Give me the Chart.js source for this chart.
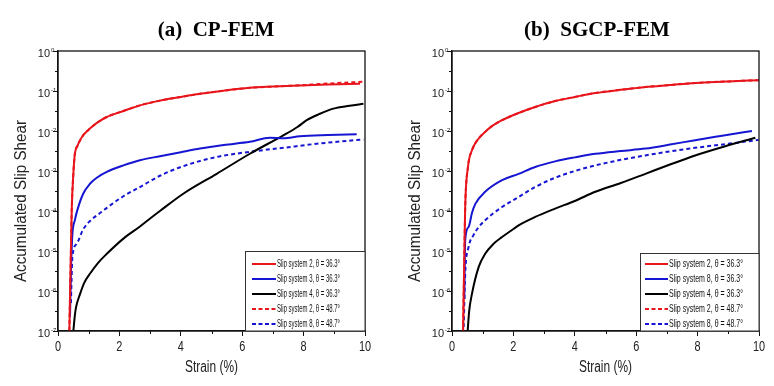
<!DOCTYPE html>
<html>
<head>
<meta charset="utf-8">
<script src="https://cdn.jsdelivr.net/npm/chart.js@4.4.1/dist/chart.umd.min.js"></script>
<style>
  html, body { margin: 0; padding: 0; background: #fff; }
  #wrap { position: relative; width: 774px; height: 386px; }
  .panel { position: absolute; top: 0; width: 387px; height: 386px; }
</style>
</head>
<body>
<div id="wrap">
  <div class="panel" style="left:0"><canvas id="chartA" width="387" height="386"></canvas></div>
  <div class="panel" style="left:387px"><canvas id="chartB" width="387" height="386"></canvas></div>
</div>
<script>
// axis ticks
const xTickValues = [0, 2, 4, 6, 8, 10];
const xMinorValues = [1, 3, 5, 7, 9];
const yTickValues = [1, 1e-1, 1e-2, 1e-3, 1e-4, 1e-5, 1e-6, 1e-7];
const yTickExps = ['0', '-1', '-2', '-3', '-4', '-5', '-6', '-7'];

// legend labels
const labelsA = ['Slip system 2, θ = 36.3°', 'Slip system 3, θ = 36.3°', 'Slip system 4, θ = 36.3°',
                 'Slip system 2, θ = 48.7°', 'Slip system 8, θ = 48.7°'];
const labelsB = ['Slip system 2, θ = 36.3°', 'Slip system 8, θ = 36.3°', 'Slip system 4, θ = 36.3°',
                 'Slip system 2, θ = 48.7°', 'Slip system 8, θ = 48.7°'];

// (a) CP-FEM
const aSs2Strain = [0.37, 0.42, 0.45, 0.50, 0.55, 0.63, 0.72, 0.85, 1.04, 1.3, 1.59, 2.13, 2.67, 3.32, 4.0, 4.63, 5.4, 6.25, 7.0, 7.88, 8.8, 9.84];
const aSs2Shear  = [1e-7, 1e-5, 1.26e-4, 8.5e-4, 2.7e-3, 4.2e-3, 5.9e-3, 8.3e-3, 1.15e-2, 1.66e-2, 2.24e-2, 3.16e-2, 4.37e-2, 5.75e-2, 7.1e-2, 8.5e-2, 0.102, 0.12, 0.129, 0.138, 0.145, 0.151];
const aSs3Strain = [0.39, 0.43, 0.47, 0.55, 0.63, 0.82, 1.04, 1.3, 1.59, 2.13, 2.67, 3.32, 4.0, 4.63, 5.4, 6.25, 6.9, 7.34, 7.88, 8.8, 9.73];
const aSs3Shear  = [2.2e-7, 5e-6, 2.7e-5, 5.9e-5, 1.05e-4, 2.7e-4, 4.8e-4, 7.1e-4, 9.5e-4, 1.38e-3, 1.86e-3, 2.34e-3, 2.95e-3, 3.63e-3, 4.47e-3, 5.37e-3, 6.76e-3, 6.6e-3, 7.41e-3, 7.94e-3, 8.3e-3];
const aSs4Strain = [0.5, 0.55, 0.59, 0.72, 0.85, 1.04, 1.3, 1.59, 2.13, 2.67, 3.0, 3.32, 4.08, 5.17, 6.25, 7.34, 7.8, 8.1, 8.5, 8.97, 9.5, 9.95];
const aSs4Shear  = [1e-7, 2.5e-7, 4e-7, 8.5e-7, 1.58e-6, 2.7e-6, 5e-6, 8.5e-6, 2.04e-5, 4.1e-5, 6.5e-5, 1.0e-4, 2.7e-4, 8.5e-4, 2.7e-3, 7.8e-3, 1.26e-2, 1.86e-2, 2.63e-2, 3.63e-2, 4.27e-2, 4.8e-2];
const aSs2bStrain = [0.37, 0.42, 0.45, 0.50, 0.55, 0.63, 0.72, 0.85, 1.04, 1.3, 1.59, 2.13, 2.67, 3.32, 4.0, 4.63, 5.4, 6.25, 7.0, 7.88, 8.5, 9.2, 9.95];
const aSs2bShear  = [1e-7, 1e-5, 1.26e-4, 8.5e-4, 2.7e-3, 4.2e-3, 5.9e-3, 8.3e-3, 1.15e-2, 1.66e-2, 2.24e-2, 3.16e-2, 4.37e-2, 5.75e-2, 7.1e-2, 8.5e-2, 0.102, 0.12, 0.129, 0.139, 0.149, 0.16, 0.17];
const aSs8bStrain = [0.42, 0.47, 0.61, 0.82, 1.04, 1.37, 1.59, 2.13, 2.67, 3.32, 4.08, 5.17, 6.25, 7.34, 8.43, 9.95];
const aSs8bShear  = [5e-7, 7.1e-6, 1.51e-5, 3.47e-5, 5.6e-5, 8.9e-5, 1.2e-4, 2.34e-4, 3.98e-4, 7.6e-4, 1.32e-3, 2.24e-3, 3.02e-3, 3.8e-3, 4.79e-3, 6.17e-3];

// (b) SGCP-FEM
const bSs2Strain = [0.36, 0.40, 0.43, 0.52, 0.65, 0.87, 1.08, 1.3, 1.63, 2.17, 2.71, 3.36, 4.0, 4.67, 5.5, 6.3, 7.1, 7.92, 9.0, 9.99];
const bSs2Shear  = [1e-7, 6.3e-6, 1.26e-4, 1.26e-3, 3.3e-3, 6.5e-3, 9.5e-3, 1.32e-2, 1.86e-2, 2.82e-2, 3.98e-2, 5.6e-2, 7.1e-2, 8.9e-2, 0.107, 0.126, 0.141, 0.158, 0.174, 0.186];
const bSs8Strain = [0.40, 0.43, 0.54, 0.65, 0.76, 1.08, 1.63, 2.17, 2.71, 3.36, 4.0, 4.67, 5.5, 6.3, 7.1, 7.92, 8.8, 9.77];
const bSs8Shear  = [6.3e-7, 1.86e-5, 3.98e-5, 8.9e-5, 1.51e-4, 3.02e-4, 5.9e-4, 8.5e-4, 1.26e-3, 1.74e-3, 2.19e-3, 2.69e-3, 3.16e-3, 3.63e-3, 4.57e-3, 5.9e-3, 7.6e-3, 1.0e-2];
const bSs4Strain = [0.51, 0.56, 0.65, 0.87, 1.08, 1.35, 1.63, 2.0, 2.17, 2.71, 3.36, 4.0, 4.67, 5.5, 6.3, 7.1, 7.92, 8.9, 9.88];
const bSs4Shear  = [1e-7, 3.2e-7, 8.5e-7, 4e-6, 8.5e-6, 1.51e-5, 2.24e-5, 3.55e-5, 4.37e-5, 7.1e-5, 1.15e-4, 1.78e-4, 3.02e-4, 5e-4, 8.5e-4, 1.45e-3, 2.45e-3, 4.17e-3, 6.76e-3];
const bSs2bStrain = bSs2Strain;
const bSs2bShear  = bSs2Shear;
const bSs8bStrain = [0.38, 0.43, 0.54, 0.7, 0.87, 1.08, 1.63, 2.17, 2.71, 3.36, 4.0, 4.67, 5.5, 6.3, 7.1, 7.92, 9.0, 9.99];
const bSs8bShear  = [1.26e-7, 2.7e-6, 1.26e-5, 2.5e-5, 3.98e-5, 5.9e-5, 1.26e-4, 2.24e-4, 3.98e-4, 6.8e-4, 1.0e-3, 1.38e-3, 1.9e-3, 2.45e-3, 3.1e-3, 3.8e-3, 4.8e-3, 6.0e-3];

const RED = 'rgb(232,22,28)';
const BLUE = 'rgb(22,22,210)';
const BLACK = '#000';
const DASH = [4, 3];

function pts(xs, ys) {
    return xs.map((x, i) => ({ x: x, y: ys[i] }));
}

function line(label, xs, ys, color, dashed) {
    return {
        label: label,
        data: pts(xs, ys),
        borderColor: color,
        backgroundColor: color,
        borderWidth: 2,
        borderDash: dashed ? DASH : [],
        pointRadius: 0,
        cubicInterpolationMode: 'monotone',
        fill: false
    };
}

function drawSqueezed(ctx, s, x, y, font, align, sx) {
    ctx.save();
    ctx.font = font;
    ctx.translate(x, y);
    ctx.scale(sx, 1);
    ctx.textAlign = align;
    ctx.fillText(s, 0, 0);
    ctx.restore();
}

// frame, minor ticks, tick labels, titles and the in-plot legend
const panelDecor = {
    id: 'panelDecor',
    afterDraw(chart, args, o) {
        const ctx = chart.ctx;
        const ca = chart.chartArea;
        const xs = chart.scales.x;
        const ys = chart.scales.y;
        ctx.save();
        ctx.strokeStyle = '#111';
        ctx.fillStyle = '#222';
        ctx.lineWidth = 1.3;
        ctx.strokeRect(ca.left, ca.top, ca.right - ca.left, ca.bottom - ca.top);

        // minor ticks
        ctx.lineWidth = 1;
        ctx.beginPath();
        xMinorValues.forEach(v => {
            const px = Math.round(xs.getPixelForValue(v)) + 0.5;
            ctx.moveTo(px, ca.bottom);
            ctx.lineTo(px, ca.bottom + 3);
        });
        for (let i = 0; i < yTickValues.length - 1; i++) {
            const py = Math.round(ys.getPixelForValue(Math.sqrt(yTickValues[i] * yTickValues[i + 1]))) + 0.5;
            ctx.moveTo(ca.left - 3, py);
            ctx.lineTo(ca.left, py);
        }
        ctx.stroke();

        // x tick labels
        ctx.textBaseline = 'middle';
        xTickValues.forEach(v => {
            drawSqueezed(ctx, String(v), xs.getPixelForValue(v), ca.bottom + 16, '14px Arial, "Liberation Sans"', 'center', 0.78);
        });

        // y tick labels 10^n
        ctx.textBaseline = 'alphabetic';
        yTickValues.forEach((v, i) => {
            const py = ys.getPixelForValue(v);
            ctx.font = '11px Arial, "Liberation Sans"';
            ctx.textAlign = 'right';
            ctx.fillText('10', ca.left - 8, py + 6);
            ctx.font = '6px Arial, "Liberation Sans"';
            ctx.textAlign = 'left';
            ctx.fillText(yTickExps[i], ca.left - 7, py + 1);
        });

        // panel title
        ctx.fillStyle = '#000';
        ctx.font = 'bold 21px "Liberation Serif", "Times New Roman", serif';
        ctx.textAlign = 'center';
        ctx.fillText(o.title, o.titleX, 36);

        // axis titles
        ctx.fillStyle = '#222';
        ctx.font = '16px Arial, "Liberation Sans"';
        ctx.textBaseline = 'middle';
        ctx.fillText('Strain (%)', (ca.left + ca.right) / 2, 368, 53);
        ctx.save();
        ctx.translate(o.yTitleX, 201);
        ctx.rotate(-Math.PI / 2);
        ctx.fillText('Accumulated Slip Shear', 0, 0, 162);
        ctx.restore();

        // legend
        const lg = o.legend;
        ctx.fillStyle = '#fff';
        ctx.fillRect(lg.left, lg.top, ca.right - lg.left, ca.bottom - lg.top);
        ctx.strokeStyle = '#333';
        ctx.lineWidth = 1;
        ctx.strokeRect(lg.left + 0.5, lg.top + 0.5, ca.right - lg.left - 0.5, ca.bottom - lg.top - 0.5);
        chart.data.datasets.forEach((ds, i) => {
            const ry = lg.rows[i];
            ctx.strokeStyle = ds.borderColor;
            ctx.lineWidth = 2;
            ctx.setLineDash(ds.borderDash.length ? [4, 2.5] : []);
            ctx.beginPath();
            ctx.moveTo(lg.lineX0, ry);
            ctx.lineTo(lg.lineX1, ry);
            ctx.stroke();
            ctx.setLineDash([]);
            ctx.fillStyle = '#111';
            ctx.font = '11px Arial, "Liberation Sans"';
            ctx.textAlign = 'left';
            ctx.textBaseline = 'middle';
            ctx.fillText(ds.label, lg.textX, ry, lg.textW);
        });
        ctx.restore();
    }
};

function makeChart(id, datasets, decor, yAxisWidth, padRight) {
    return new Chart(document.getElementById(id), {
        type: 'line',
        data: { datasets: datasets },
        options: {
            responsive: false,
            animation: false,
            layout: { padding: { top: 51, right: padRight, bottom: 0, left: 0 } },
            plugins: {
                legend: { display: false },
                tooltip: { enabled: false },
                panelDecor: decor
            },
            scales: {
                x: {
                    type: 'linear',
                    min: 0,
                    max: 10,
                    afterBuildTicks: s => { s.ticks = xTickValues.map(v => ({ value: v })); },
                    afterFit: s => { s.height = 55; },
                    ticks: { display: false },
                    grid: { drawOnChartArea: false, drawTicks: true, tickLength: 5, color: '#111' },
                    border: { display: true, color: '#111', width: 1.3 }
                },
                y: {
                    type: 'logarithmic',
                    min: 1e-7,
                    max: 1,
                    afterBuildTicks: s => { s.ticks = yTickValues.map(v => ({ value: v })); },
                    afterFit: s => { s.width = yAxisWidth; },
                    ticks: { display: false },
                    grid: { drawOnChartArea: false, drawTicks: true, tickLength: 5, color: '#111' },
                    border: { display: true, color: '#111', width: 1.3 }
                }
            }
        },
        plugins: [panelDecor]
    });
}

makeChart('chartA', [
    line(labelsA[0], aSs2Strain, aSs2Shear, RED, false),
    line(labelsA[1], aSs3Strain, aSs3Shear, BLUE, false),
    line(labelsA[2], aSs4Strain, aSs4Shear, BLACK, false),
    line(labelsA[3], aSs2bStrain, aSs2bShear, RED, true),
    line(labelsA[4], aSs8bStrain, aSs8bShear, BLUE, true)
], {
    title: '(a)  CP-FEM',
    titleX: 216,
    yTitleX: 22,
    legend: { left: 245, top: 251, lineX0: 252, lineX1: 276, textX: 277, textW: 63, rows: [264, 279, 294, 309, 324] }
}, 58, 22);

makeChart('chartB', [
    line(labelsB[0], bSs2Strain, bSs2Shear, RED, false),
    line(labelsB[1], bSs8Strain, bSs8Shear, BLUE, false),
    line(labelsB[2], bSs4Strain, bSs4Shear, BLACK, false),
    line(labelsB[3], bSs2bStrain, bSs2bShear, RED, true),
    line(labelsB[4], bSs8bStrain, bSs8bShear, BLUE, true)
], {
    title: '(b)  SGCP-FEM',
    titleX: 210,
    yTitleX: 29,
    legend: { left: 253, top: 253, lineX0: 258, lineX1: 281, textX: 282, textW: 74, rows: [264, 279, 294, 309, 324] }
}, 65, 15);
</script>
</body>
</html>
